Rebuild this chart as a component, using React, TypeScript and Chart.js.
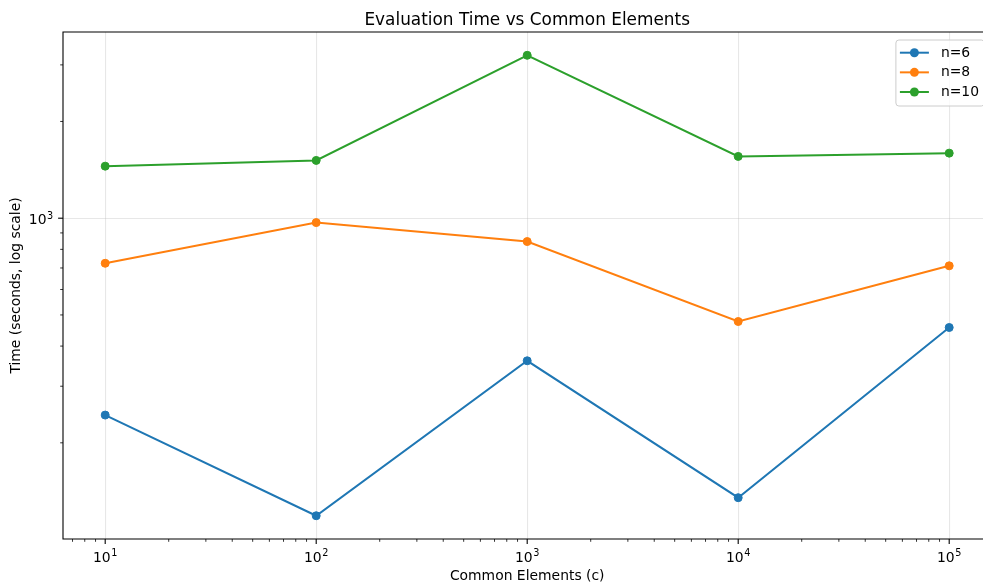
import React, { useEffect, useRef } from 'react';
import { Chart, registerables } from 'chart.js';

Chart.register(...registerables);

// ---- data ----
const commonElements = [10, 100, 1000, 10000, 100000];
const timeN6 = [244, 118.6, 360, 135, 457];
const timeN8 = [724, 969, 846, 477, 711];
const timeN10 = [1452, 1513, 3213, 1557, 1594];
const seriesLabels = ['n=6', 'n=8', 'n=10'];
const seriesColors = ['#1f77b4', '#ff7f0e', '#2ca02c'];

// ---- ticks ----
const xMajorTicks = [10, 100, 1000, 10000, 100000];
const xMinorTicks = [7, 8, 9, 20, 30, 40, 50, 60, 70, 80, 90, 200, 300, 400, 500, 600, 700, 800, 900,
  2000, 3000, 4000, 5000, 6000, 7000, 8000, 9000, 20000, 30000, 40000, 50000, 60000, 70000, 80000, 90000];
const yMajorTicks = [1000];
const yMinorTicks = [200, 300, 400, 500, 600, 700, 800, 900, 2000, 3000];

const titleText = 'Evaluation Time vs Common Elements';
const xTitleText = 'Common Elements (c)';
const yTitleText = 'Time (seconds, log scale)';

const X_MIN = Math.pow(10, 0.8);
const X_MAX = Math.pow(10, 5.2);
const Y_MIN = 100.4;
const Y_MAX = 3797;

const FONT = 'DejaVu Sans';
const LABEL_SIZE = 13.9;
const SUP_SIZE = 9.7;
const SUP_RAISE = 5.6;

const isDecade = (v: number) => Math.abs(Math.log10(v) - Math.round(Math.log10(v))) < 1e-9;
const decadeExp = (v: number) => String(Math.round(Math.log10(v)));

const toPoints = (ys: number[]) => commonElements.map((x, i) => ({ x, y: ys[i] }));

// draws "10" with a raised exponent; anchor 'center' or 'right' at (x), baseline y
function drawPowerLabel(ctx: CanvasRenderingContext2D, exp: string, x: number, baseline: number, anchor: 'center' | 'right') {
  ctx.font = `${LABEL_SIZE}px "${FONT}"`;
  const wBase = ctx.measureText('10').width;
  ctx.font = `${SUP_SIZE}px "${FONT}"`;
  const wSup = ctx.measureText(exp).width;
  const total = wBase + wSup + 0.5;
  const x0 = anchor === 'center' ? x - total / 2 : x - total;
  ctx.textAlign = 'left';
  ctx.textBaseline = 'alphabetic';
  ctx.fillStyle = '#000';
  ctx.font = `${LABEL_SIZE}px "${FONT}"`;
  ctx.fillText('10', x0, baseline);
  ctx.font = `${SUP_SIZE}px "${FONT}"`;
  ctx.fillText(exp, x0 + wBase + 0.5, baseline - SUP_RAISE);
}

const framePlugin = {
  id: 'mplFrame',
  afterDraw(chart: any) {
    const { ctx, chartArea } = chart;
    const { left, right, top, bottom } = chartArea;
    const xs = chart.scales.x;
    const ys = chart.scales.y;
    ctx.save();
    ctx.strokeStyle = '#000';
    const drawTick = (x1: number, y1: number, x2: number, y2: number, w: number) => {
      ctx.lineWidth = w;
      ctx.beginPath();
      ctx.moveTo(x1, y1);
      ctx.lineTo(x2, y2);
      ctx.stroke();
    };
    xs.ticks.forEach((t: any) => {
      const px = xs.getPixelForValue(t.value);
      const major = isDecade(t.value);
      drawTick(px, bottom, px, bottom + (major ? 4.9 : 2.8), major ? 1.1 : 0.8);
      if (major) drawPowerLabel(ctx, decadeExp(t.value), px, bottom + 22.5, 'center');
    });
    ys.ticks.forEach((t: any) => {
      const py = ys.getPixelForValue(t.value);
      const major = isDecade(t.value);
      drawTick(left, py, left - (major ? 4.9 : 2.8), py, major ? 1.1 : 0.8);
      if (major) drawPowerLabel(ctx, decadeExp(t.value), left - 9.8, py + 6, 'right');
    });
    // spines
    ctx.strokeStyle = '#000';
    ctx.lineWidth = 1.1;
    ctx.beginPath();
    ctx.rect(left, top, right - left, bottom - top);
    ctx.stroke();

    // title
    ctx.fillStyle = '#000';
    ctx.font = `16.9px "${FONT}"`;
    ctx.textAlign = 'center';
    ctx.textBaseline = 'alphabetic';
    ctx.fillText(titleText, (left + right) / 2, 24.5);

    // legend
    const boxRight = right - 7;
    const boxW = 88.5;
    const boxLeft = boxRight - boxW;
    const boxTop = top + 8;
    const boxH = 66;
    const r = 3;
    ctx.beginPath();
    ctx.moveTo(boxLeft + r, boxTop);
    ctx.lineTo(boxRight - r, boxTop);
    ctx.arcTo(boxRight, boxTop, boxRight, boxTop + r, r);
    ctx.lineTo(boxRight, boxTop + boxH - r);
    ctx.arcTo(boxRight, boxTop + boxH, boxRight - r, boxTop + boxH, r);
    ctx.lineTo(boxLeft + r, boxTop + boxH);
    ctx.arcTo(boxLeft, boxTop + boxH, boxLeft, boxTop + boxH - r, r);
    ctx.lineTo(boxLeft, boxTop + r);
    ctx.arcTo(boxLeft, boxTop, boxLeft + r, boxTop, r);
    ctx.closePath();
    ctx.fillStyle = 'rgba(255,255,255,0.8)';
    ctx.fill();
    ctx.strokeStyle = '#cccccc';
    ctx.lineWidth = 1;
    ctx.stroke();

    ctx.font = `${LABEL_SIZE}px "${FONT}"`;
    ctx.textBaseline = 'middle';
    ctx.textAlign = 'left';
    seriesLabels.forEach((label, i) => {
      const cy = boxTop + 12.7 + i * 19.65;
      const lx1 = boxLeft + 4;
      const lx2 = boxLeft + 33;
      ctx.strokeStyle = seriesColors[i];
      ctx.lineWidth = 2;
      ctx.beginPath();
      ctx.moveTo(lx1, cy);
      ctx.lineTo(lx2, cy);
      ctx.stroke();
      ctx.fillStyle = seriesColors[i];
      ctx.beginPath();
      ctx.arc((lx1 + lx2) / 2, cy, 4.5, 0, Math.PI * 2);
      ctx.fill();
      ctx.fillStyle = '#000';
      ctx.fillText(label, boxLeft + 45, cy + 0.5);
    });
    ctx.restore();
  },
};

export default function App() {
  const canvasRef = useRef<HTMLCanvasElement | null>(null);

  useEffect(() => {
    if (!canvasRef.current) return;
    Chart.defaults.font.family = FONT;
    const gridColor = (c: any) => (c.tick && isDecade(c.tick.value) ? 'rgba(176,176,176,0.3)' : 'rgba(0,0,0,0)');
    const series = [timeN6, timeN8, timeN10];
    const chart = new Chart(canvasRef.current, {
      type: 'line',
      data: {
        datasets: series.map((ys, i) => ({
          label: seriesLabels[i],
          data: toPoints(ys),
          borderColor: seriesColors[i],
          backgroundColor: seriesColors[i],
          pointBackgroundColor: seriesColors[i],
          pointBorderColor: seriesColors[i],
          pointRadius: 4,
          pointBorderWidth: 1,
          borderWidth: 2,
          tension: 0,
          fill: false,
        })),
      },
      options: {
        animation: false,
        responsive: false,
        devicePixelRatio: 1,
        layout: { autoPadding: false, padding: { left: 0, right: 0.6, top: 32, bottom: 0 } },
        plugins: {
          legend: { display: false },
          tooltip: { enabled: false },
          title: { display: false },
        },
        scales: {
          x: {
            type: 'logarithmic',
            min: X_MIN,
            max: X_MAX,
            bounds: 'data',
            afterBuildTicks: (scale: any) => {
              scale.ticks = [...xMinorTicks, ...xMajorTicks].sort((a, b) => a - b).map((v) => ({ value: v, major: isDecade(v) }));
            },
            afterFit: (scale: any) => {
              scale.height = 46;
            },
            grid: { color: gridColor, lineWidth: 1.1, drawTicks: false },
            border: { display: false },
            ticks: { display: false, autoSkip: false, maxRotation: 0, minRotation: 0 },
            title: {
              display: true,
              text: xTitleText,
              color: '#000',
              font: { family: FONT, size: LABEL_SIZE },
              padding: { top: 0, bottom: 0 },
            },
          },
          y: {
            type: 'logarithmic',
            min: Y_MIN,
            max: Y_MAX,
            bounds: 'data',
            afterBuildTicks: (scale: any) => {
              scale.ticks = [...yMinorTicks, ...yMajorTicks].sort((a, b) => a - b).map((v) => ({ value: v, major: isDecade(v) }));
            },
            afterFit: (scale: any) => {
              scale.width = 63;
            },
            grid: { color: gridColor, lineWidth: 1.1, drawTicks: false },
            border: { display: false },
            ticks: { display: false, autoSkip: false },
            title: {
              display: true,
              text: yTitleText,
              color: '#000',
              font: { family: FONT, size: LABEL_SIZE },
              padding: { top: 7.7, bottom: 0 },
            },
          },
        },
      } as any,
      plugins: [framePlugin],
    });
    return () => chart.destroy();
  }, []);

  return (
    <div style={{ position: 'absolute', left: 0, top: 0, width: 983, height: 585, overflow: 'hidden', background: '#fff' }}>
      <canvas ref={canvasRef} width={992} height={585} style={{ display: 'block', width: 992, height: 585 }} />
    </div>
  );
}
